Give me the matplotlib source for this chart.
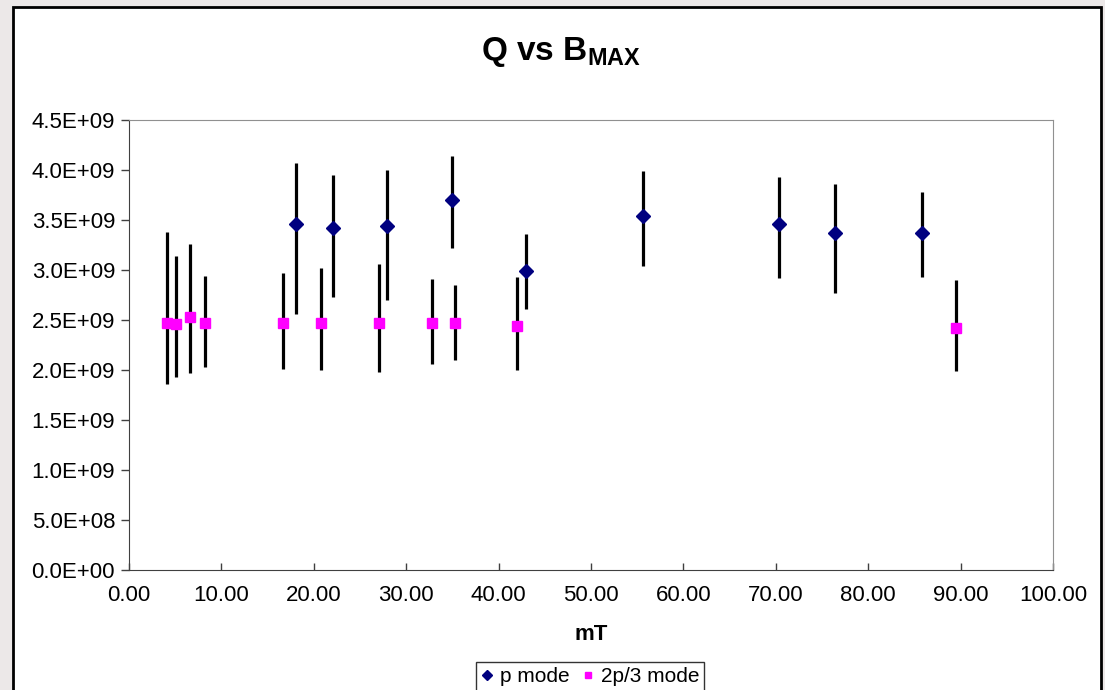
import matplotlib.pyplot as plt
import matplotlib
from matplotlib.patches import Rectangle
import numpy as np

# p mode
p_x = [18.04, 22.11, 27.96, 35.00, 43.00, 55.63, 70.31, 76.45, 85.86]
p_q = [3.46e9, 3.42e9, 3.44e9, 3.70e9, 2.99e9, 3.54e9, 3.46e9, 3.37e9, 3.37e9]
p_hi = [4.07e9, 3.95e9, 4.00e9, 4.14e9, 3.36e9, 3.99e9, 3.93e9, 3.86e9, 3.78e9]
p_lo = [2.56e9, 2.73e9, 2.70e9, 3.22e9, 2.61e9, 3.04e9, 2.92e9, 2.77e9, 2.93e9]

# 2p/3 mode
m_x = [4.08, 5.12, 6.64, 8.19, 16.63, 20.74, 27.06, 32.83, 35.25, 41.99, 89.54]
m_q = [2.47e9, 2.46e9, 2.53e9, 2.47e9, 2.47e9, 2.47e9, 2.47e9, 2.47e9, 2.47e9, 2.44e9, 2.42e9]
m_hi = [3.38e9, 3.14e9, 3.26e9, 2.94e9, 2.97e9, 3.02e9, 3.06e9, 2.91e9, 2.85e9, 2.93e9, 2.90e9]
m_lo = [1.86e9, 1.93e9, 1.97e9, 2.03e9, 2.01e9, 2.00e9, 1.98e9, 2.06e9, 2.10e9, 2.00e9, 1.99e9]

x_ticks = np.arange(0, 101, 10)
y_ticks = np.arange(0, 4.51e9, 0.5e9)

plt.rcParams['font.family'] = ['Liberation Sans', 'DejaVu Sans']
plt.rcParams['mathtext.fontset'] = 'custom'
plt.rcParams['mathtext.rm'] = 'Liberation Sans:bold'
plt.rcParams['mathtext.bf'] = 'Liberation Sans:bold'
plt.rcParams['mathtext.it'] = 'Liberation Sans:bold'

fig = plt.figure(figsize=(11.05, 6.9), dpi=100, facecolor='#ece8e8')
fig.patches.append(Rectangle((13 / 1105, -0.05), 1088 / 1105, 1.05 - 7 / 690,
                             transform=fig.transFigure, facecolor='white',
                             edgecolor='black', linewidth=2, zorder=-5))

ax = fig.add_axes([129 / 1105, 1 - 570 / 690, 924 / 1105, 450 / 690])

p_err = [np.array(p_q) - np.array(p_lo), np.array(p_hi) - np.array(p_q)]
m_err = [np.array(m_q) - np.array(m_lo), np.array(m_hi) - np.array(m_q)]

ax.errorbar(m_x, m_q, yerr=m_err, fmt='none', ecolor='black', elinewidth=2.3, capsize=0, zorder=2)
ax.errorbar(p_x, p_q, yerr=p_err, fmt='none', ecolor='black', elinewidth=2.3, capsize=0, zorder=2)
ax.plot(p_x, p_q, 'D', color='#000080', markersize=7, label='p mode', zorder=3)
ax.plot(m_x, m_q, 's', color='#ff00ff', markersize=7, label='2p/3 mode', zorder=3)

ax.set_xlim(0, 100)
ax.set_ylim(0, 4.5e9)
ax.set_xticks(x_ticks)
ax.set_xticklabels(['%.2f' % v for v in x_ticks])
ax.set_yticks(y_ticks)
ax.set_yticklabels(['%.1E' % v for v in y_ticks])
ax.tick_params(axis='y', direction='out', length=6, width=1, color='#404040', labelsize=16, pad=4)
ax.tick_params(axis='x', direction='in', length=5, width=1, color='#404040', labelsize=16, pad=11)

for side in ['left', 'bottom']:
    ax.spines[side].set_color('#404040')
for side in ['top', 'right']:
    ax.spines[side].set_color('#909090')

ax.set_xlabel('mT', fontsize=16, fontweight='bold', labelpad=13)
fig.text(0.508, 1 - 52 / 690, r'Q vs B$_{\mathbf{MAX}}$', ha='center', va='center',
         fontsize=24, fontweight='bold')

leg = fig.legend(loc='center', bbox_to_anchor=(590 / 1105, 1 - 677 / 690), ncol=2,
                 fontsize=15, frameon=True, fancybox=False, handlelength=0.6,
                 handletextpad=0.3, columnspacing=0.6, borderpad=0.25, markerscale=0.7)
leg.get_frame().set_edgecolor('black')
leg.get_frame().set_linewidth(1)

fig.savefig('out.png', dpi=100, facecolor=fig.get_facecolor())
